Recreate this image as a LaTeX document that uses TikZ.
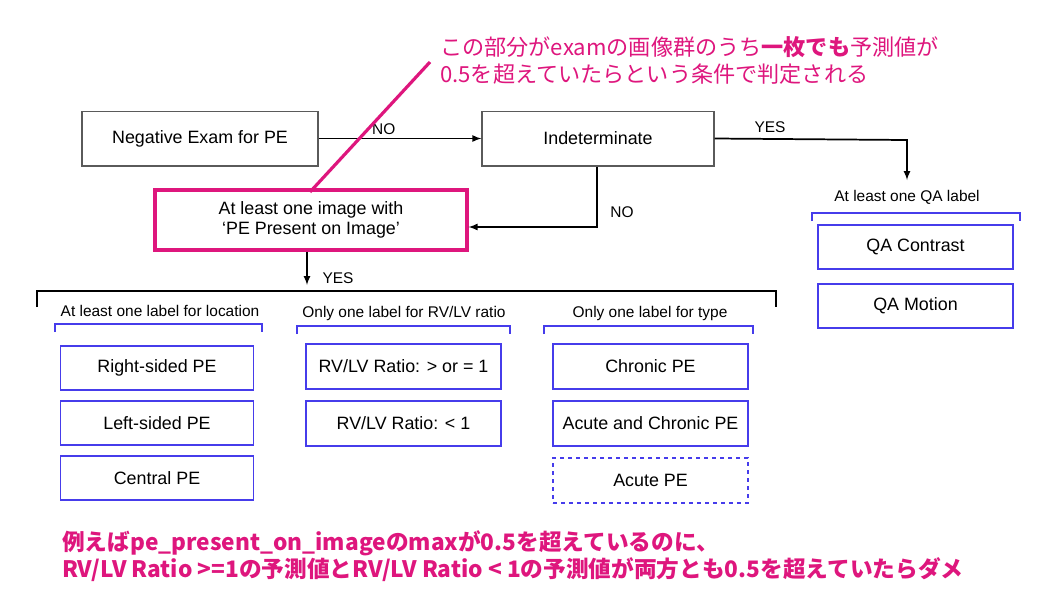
\documentclass[tikz,border=0pt]{standalone}
\usepackage{fontspec}
\setmainfont{Liberation Sans}
\newfontfamily\jp{Noto Sans CJK JP}
\definecolor{mag}{RGB}{222,22,125}
\definecolor{bl}{RGB}{70,60,235}
\definecolor{gr}{RGB}{90,90,90}
\begin{document}
\begin{tikzpicture}[x=0.75pt,y=-0.75pt,
 gbox/.style={draw=gr,line width=1pt,fill=white,inner sep=0pt},
 bbox/.style={draw=bl,line width=1.2pt,inner sep=0pt},
 txt/.style={font=\fontsize{13.4}{15.5}\selectfont},
 small/.style={font=\fontsize{11.6}{13}\selectfont},
 arr/.style={line width=1.3pt,-latex},
 brk/.style={draw=bl,line width=1.2pt}]
\useasboundingbox (0,0) rectangle (1064,608);
\node[gbox,minimum width=177pt,minimum height=41pt,txt] (neg) at (200,138.5) {Negative Exam for PE};
\node[gbox,minimum width=174pt,minimum height=41pt,txt] (ind) at (598,138.5) {Indeterminate};
\node[draw=mag,line width=2.4pt,minimum width=234pt,minimum height=45pt,inner sep=0pt,txt,align=center] (pe) at (311,220) {At least one image with\\‘PE Present on Image’};
\draw[arr] (neg) -- (ind) node[pos=0.4,above=-1pt,small] {NO};
\coordinate (q1) at (907,140);
\coordinate (q2) at (907,180);
\draw[arr] (ind.east) -- (q1) -- (q2);
\node[small] at (770,127) {YES};
\coordinate (i1) at (597,227);
\draw[arr] (ind.south -| i1) -- (i1) -- (pe.east |- i1);
\node[small] at (622,212) {NO};
\coordinate (y1) at (307,285);
\draw[arr] (pe.south -| y1) -- (y1);
\node[small] at (338,278) {YES};
\draw[line width=1.2pt] (37,307) -- (37,291) -- (776,291) -- (776,307);
% groups
\node[small] at (160,311) {At least one label for location};
\draw[brk] (55,332) -- (55,324) -- (262,324) -- (262,332);
\node[small] at (404,313) {Only one label for RV/LV ratio};
\draw[brk] (297,334) -- (297,326) -- (510,326) -- (510,334);
\node[small] at (650,313) {Only one label for type};
\draw[brk] (544,334) -- (544,326) -- (753,326) -- (753,334);
\node[small] at (907,197) {At least one QA label};
\draw[brk] (812,221) -- (812,213) -- (1020,213) -- (1020,221);
\tikzset{b1/.style={bbox,minimum width=145pt,minimum height=33pt,txt}}
\node[b1] (r) at (157,368) {Right-sided PE};
\node[b1] (l) at (157,423) {Left-sided PE};
\node[b1] (c) at (157,478) {Central PE};
\node[b1,minimum width=146pt,minimum height=34pt] (rv1) at (403.5,366.5) {RV/LV Ratio: > or = 1};
\node[b1,minimum width=146pt,minimum height=34pt] (rv2) at (403.5,423.5) {RV/LV Ratio: < 1};
\node[b1,minimum width=146pt,minimum height=34pt] (ch) at (650.5,366.5) {Chronic PE};
\node[b1,minimum width=146pt,minimum height=34pt] (ac) at (650.5,423.5) {Acute and Chronic PE};
\node[b1,minimum width=146pt,minimum height=34pt,dashed] (a) at (650.5,480.5) {Acute PE};
\node[b1,minimum width=146pt,minimum height=33pt] (qc) at (915.5,247) {QA Contrast};
\node[b1,minimum width=146pt,minimum height=33pt] (qm) at (915.5,306) {QA Motion};
% annotations
\node[anchor=west,text=mag,font=\jp\fontsize{16.6}{20.3}\selectfont,align=left,inner sep=0pt] (ann) at (440,60) {この部分がexamの画像群のうち\textbf{一枚でも}予測値が\\0.5を超えていたらという条件で判定される};
\draw[mag,line width=2.4pt] (430,62) -- (310,192);
\node[anchor=west,text=mag,font=\jp\bfseries\fontsize{17}{17}\selectfont,align=left,inner sep=0pt] (bot) at (62,556) {例えばpe\_present\_on\_imageのmaxが0.5を超えているのに、\\RV/LV Ratio >=1の予測値とRV/LV Ratio < 1の予測値が両方とも0.5を超えていたらダメ};
\end{tikzpicture}
\end{document}
